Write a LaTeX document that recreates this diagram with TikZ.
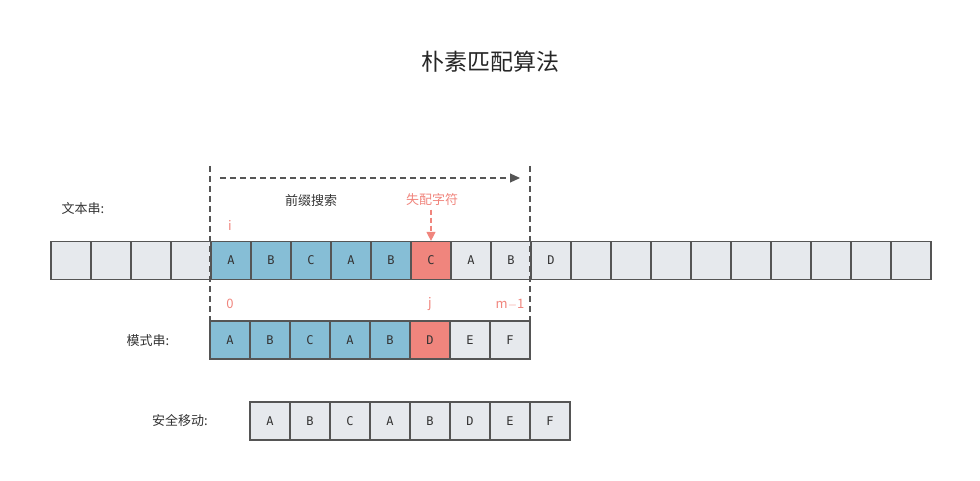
\documentclass[tikz,border=0pt]{standalone}
\usepackage{fontspec}
\setmainfont{Noto Sans CJK SC}
\newfontfamily\cellfont{DejaVu Sans Mono}
\usetikzlibrary{arrows.meta}
\definecolor{cgray}{HTML}{E6E9ED}
\definecolor{cblue}{HTML}{86BED6}
\definecolor{cred}{HTML}{F0857D}
\definecolor{cline}{HTML}{555555}
\tikzset{
 cell/.style={draw=cline,line width=1.2pt,minimum width=40pt,minimum height=38pt,inner sep=0pt,font=\cellfont\fontsize{12}{12}\selectfont,text=black!80},
 lbl/.style={font=\fontsize{13}{13}\selectfont,text=black!80},
 rlbl/.style={font=\fontsize{13}{13}\selectfont,text=cred},
 guide/.style={cline,dashed,line width=1.2pt,dash pattern=on 6pt off 4pt}
}
\begin{document}
\begin{tikzpicture}[x=1pt,y=-1pt]
\useasboundingbox (0,0) rectangle (980,481);
\node[font=\fontsize{23}{23}\selectfont,text=black!85] (title) at (490,62) {朴素匹配算法};
% text row
\foreach \k in {0,...,21}{
  \pgfmathtruncatemacro{\kk}{\k}
  \node[cell,fill=cgray] (t\k) at (71+40*\k,260.5) {};
}
\foreach \k/\c/\col in {4/A/cblue,5/B/cblue,6/C/cblue,7/A/cblue,8/B/cblue,9/C/cred,10/A/cgray,11/B/cgray,12/D/cgray}{
  \node[cell,fill=\col] at (t\k) {\c};
}
% pattern row
\foreach \k/\c/\col in {0/A/cblue,1/B/cblue,2/C/cblue,3/A/cblue,4/B/cblue,5/D/cred,6/E/cgray,7/F/cgray}{
  \node[cell,fill=\col] (p\k) at (230+40*\k,340) {\c};
}
% safe row
\foreach \k/\c in {0/A,1/B,2/C,3/A,4/B,5/D,6/E,7/F}{
  \node[cell,fill=cgray] (s\k) at (270+40*\k,421) {\c};
}
\node[lbl] (l1) at (83,209) {文本串:};
\node[lbl] (l2) at (148,341) {模式串:};
\node[lbl] (l3) at (180,421) {安全移动:};
\node[lbl] (pre) at (311,201) {前缀搜索};
\node[rlbl] (mis) at (432,200) {失配字符};
\node[rlbl] (li) at (230,225) {i};
\node[rlbl] (l0) at (230,304) {0};
\node[rlbl] (lj) at (430,304) {j};
\node[rlbl] (lm) at (510,304) {m$-$1};
\coordinate (gl1) at (210,166); \coordinate (gl2) at (210,321);
\coordinate (gr1) at (530,166); \coordinate (gr2) at (530,321);
\draw[guide] (gl1) -- (gl2);
\draw[guide] (gr1) -- (gr2);
\coordinate (a1) at (220,178); \coordinate (a2) at (520,178);
\draw[guide,-{Triangle[width=9pt,length=10pt]}] (a1) -- (a2);
\draw[cred,dashed,line width=1.2pt,dash pattern=on 5pt off 3pt,-{Triangle[width=9pt,length=9pt]}] (mis.south -| t9) -- (t9.north);
\end{tikzpicture}
\end{document}
